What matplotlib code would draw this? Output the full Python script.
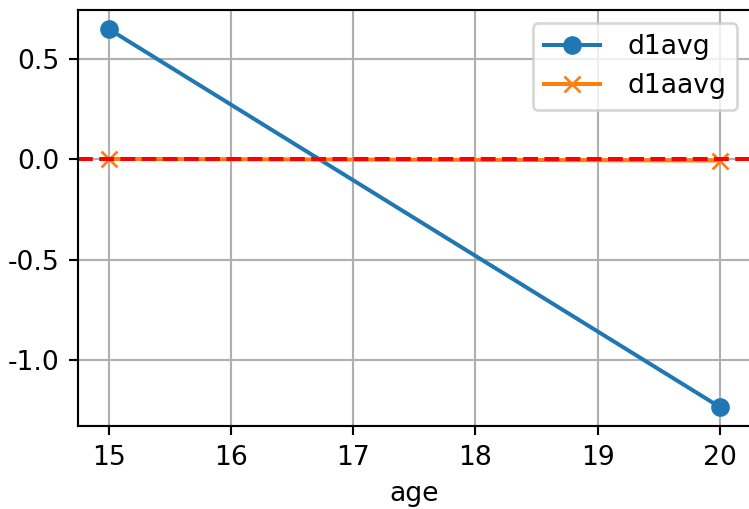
import matplotlib
matplotlib.use("Agg")
import matplotlib.pyplot as plt

plt.rcParams['axes.unicode_minus'] = False

ages = [15, 20]
d1avg = [0.65, -1.235]
d1aavg = [0.002, -0.006]

DPI = 192
fig = plt.figure(figsize=(749 / DPI, 509 / DPI), dpi=DPI)
# original figure is cropped: title above the top edge and right spine just off the canvas
ax = fig.add_axes([78 / 749, 83 / 509, 672.5 / 749, 416 / 509])

ax.plot(ages, d1avg, marker='o', label='d1avg')
ax.plot(ages, d1aavg, marker='x', label='d1aavg')
ax.axhline(0, color='red', linestyle='--')

ax.set_xlabel('age')
ax.grid(True)
ax.legend(loc='upper right', handlelength=2.1, handletextpad=1.05)

fig.savefig('out.png', dpi=DPI)
